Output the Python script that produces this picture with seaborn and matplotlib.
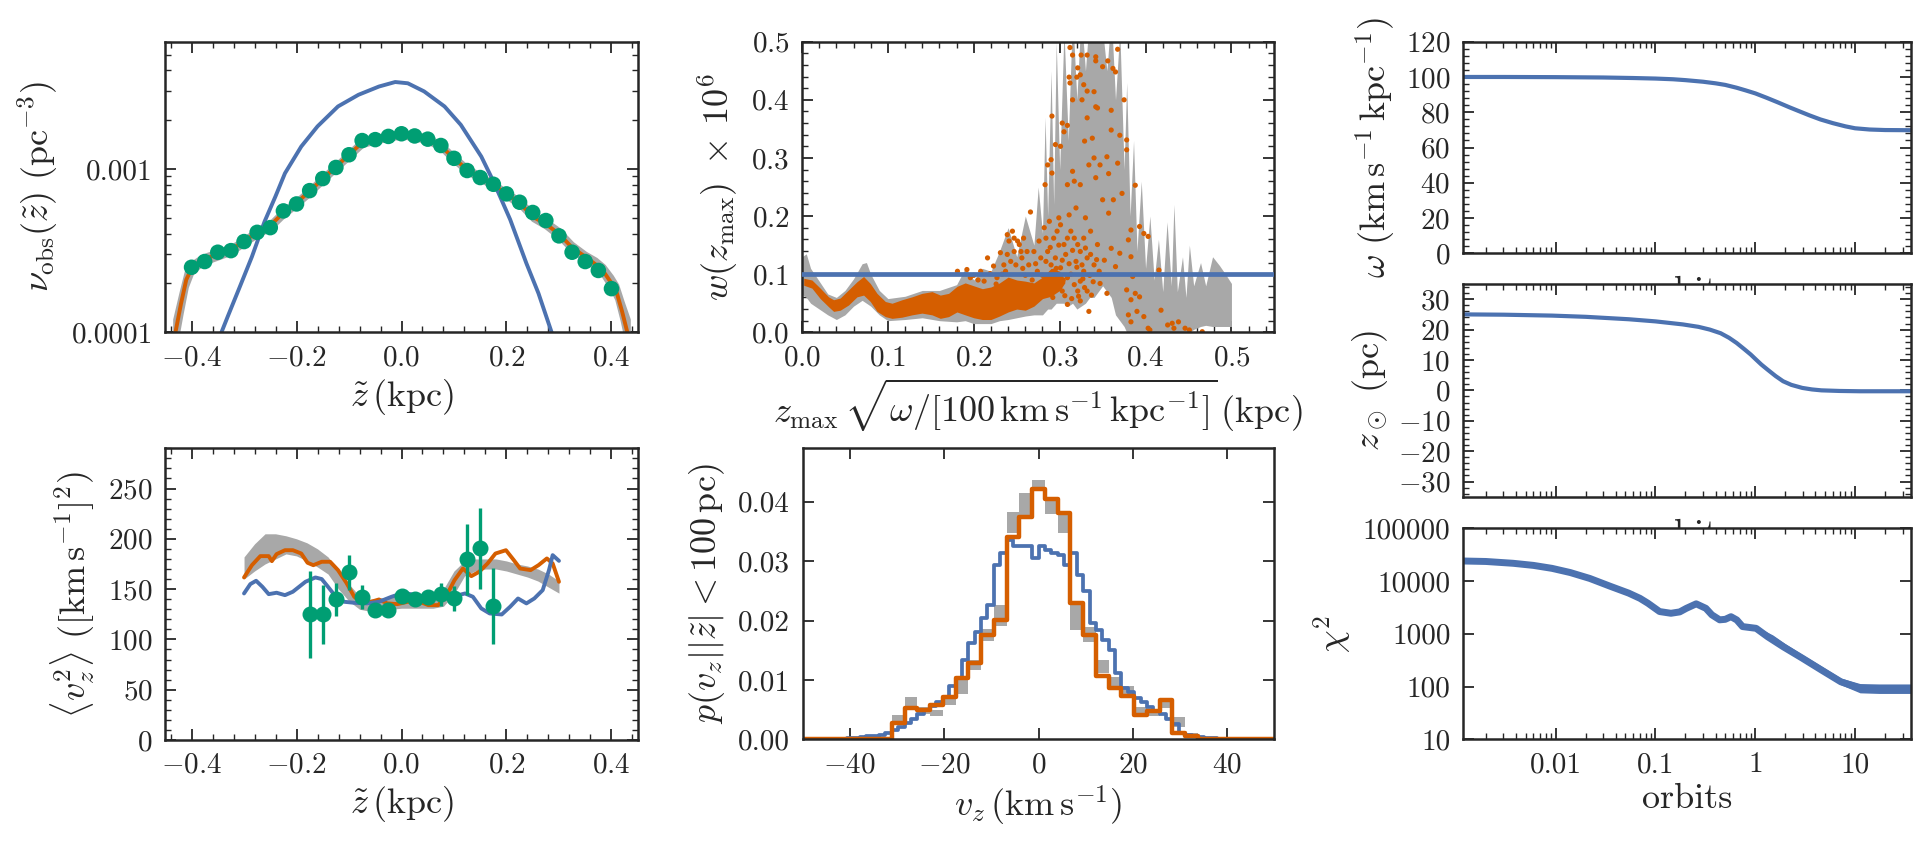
import matplotlib
matplotlib.use("Agg")
import matplotlib.pyplot as plt
import matplotlib.ticker as mticker
import numpy as np
import seaborn as sns

BLUE = "#4C72B0"
ORANGE = "#D55E00"
GREEN = "#009E73"
GREY = "#A8A8A8"

# ---------------------------------------------------------------------------
# (a) vertical number density
# ---------------------------------------------------------------------------
nu_dot_z = [-0.400, -0.375, -0.350, -0.325, -0.300, -0.275, -0.250, -0.225, -0.200, -0.175,
            -0.150, -0.125, -0.100, -0.075, -0.050, -0.025, 0.000, 0.025, 0.050, 0.075,
            0.100, 0.125, 0.150, 0.175, 0.200, 0.225, 0.250, 0.275, 0.300, 0.325,
            0.350, 0.375, 0.400]
nu_dot = [2.50e-4, 2.71e-4, 3.09e-4, 3.16e-4, 3.59e-4, 4.09e-4, 4.37e-4, 5.53e-4, 6.10e-4, 7.36e-4,
          8.72e-4, 1.02e-3, 1.22e-3, 1.49e-3, 1.51e-3, 1.58e-3, 1.64e-3, 1.59e-3, 1.52e-3, 1.39e-3,
          1.16e-3, 9.77e-4, 8.85e-4, 8.05e-4, 7.03e-4, 6.25e-4, 5.41e-4, 4.83e-4, 3.89e-4, 3.09e-4,
          2.71e-4, 2.39e-4, 1.85e-4]

nu_line_z = [-0.432, -0.42, -0.41, -0.40, -0.385, -0.37, -0.35, -0.325, -0.30, -0.275,
             -0.25, -0.225, -0.20, -0.175, -0.15, -0.125, -0.10, -0.075, -0.05, -0.025,
             0.0, 0.025, 0.05, 0.075, 0.10, 0.125, 0.15, 0.175, 0.20, 0.225,
             0.25, 0.275, 0.30, 0.325, 0.35, 0.37, 0.385, 0.40, 0.41, 0.42, 0.432]
nu_line = [0.95e-4, 1.5e-4, 2.1e-4, 2.45e-4, 2.7e-4, 2.85e-4, 3.0e-4, 3.2e-4, 3.6e-4, 4.1e-4,
           4.5e-4, 5.4e-4, 6.2e-4, 7.3e-4, 8.7e-4, 1.03e-3, 1.22e-3, 1.45e-3, 1.52e-3, 1.58e-3,
           1.63e-3, 1.59e-3, 1.52e-3, 1.38e-3, 1.16e-3, 9.9e-4, 8.9e-4, 8.0e-4, 7.0e-4, 6.2e-4,
           5.1e-4, 4.6e-4, 4.0e-4, 3.3e-4, 2.9e-4, 2.6e-4, 2.35e-4, 2.0e-4, 1.75e-4, 1.35e-4, 0.95e-4]
nu_band_lo = [0.8e-4, 1.3e-4, 1.9e-4, 2.3e-4, 2.55e-4, 2.7e-4, 2.85e-4, 3.05e-4, 3.45e-4, 3.9e-4,
              4.3e-4, 5.15e-4, 5.95e-4, 7.0e-4, 8.35e-4, 9.9e-4, 1.17e-3, 1.39e-3, 1.46e-3, 1.52e-3,
              1.57e-3, 1.53e-3, 1.46e-3, 1.33e-3, 1.11e-3, 9.5e-4, 8.55e-4, 7.7e-4, 6.7e-4, 5.95e-4,
              4.9e-4, 4.4e-4, 3.8e-4, 3.15e-4, 2.75e-4, 2.45e-4, 2.2e-4, 1.85e-4, 1.6e-4, 1.2e-4, 0.8e-4]
nu_band_hi = [1.2e-4, 1.75e-4, 2.35e-4, 2.65e-4, 2.85e-4, 3.0e-4, 3.15e-4, 3.35e-4, 3.75e-4, 4.3e-4,
              4.7e-4, 5.65e-4, 6.45e-4, 7.6e-4, 9.05e-4, 1.07e-3, 1.27e-3, 1.51e-3, 1.58e-3, 1.64e-3,
              1.69e-3, 1.65e-3, 1.58e-3, 1.43e-3, 1.21e-3, 1.03e-3, 9.25e-4, 8.3e-4, 7.3e-4, 6.5e-4,
              5.4e-4, 4.85e-4, 4.25e-4, 3.5e-4, 3.05e-4, 2.8e-4, 2.55e-4, 2.2e-4, 1.95e-4, 1.55e-4, 1.2e-4]

nu_model_z = [-0.343, -0.331, -0.308, -0.285, -0.261, -0.240, -0.222, -0.191, -0.160, -0.121,
              -0.082, -0.043, -0.012, 0.012, 0.043, 0.082, 0.113, 0.152, 0.175, 0.207,
              0.238, 0.261, 0.286]
nu_model = [1.0e-4, 1.25e-4, 1.9e-4, 2.9e-4, 4.75e-4, 6.8e-4, 9.4e-4, 1.37e-3, 1.82e-3, 2.41e-3,
            2.84e-3, 3.19e-3, 3.40e-3, 3.34e-3, 2.98e-3, 2.41e-3, 1.86e-3, 1.19e-3, 8.4e-4, 4.9e-4,
            2.64e-4, 1.73e-4, 1.0e-4]

# ---------------------------------------------------------------------------
# (b) velocity dispersion
# ---------------------------------------------------------------------------
v2_dot_z = [-0.175, -0.15, -0.125, -0.1, -0.075, -0.05, -0.025, 0.0, 0.025, 0.05,
            0.075, 0.1, 0.125, 0.15, 0.175]
v2_dot = [124.8, 124.8, 139.7, 166.9, 142.4, 129.1, 129.1, 143.4, 139.7, 142.4,
          144.7, 140.7, 179.5, 190.4, 133.1]
v2_err = [43.5, 29.0, 16.5, 17.5, 12.0, 5.0, 4.0, 4.0, 4.0, 5.0,
          11.0, 12.0, 35.0, 40.0, 38.0]

v2_fit_z = [-0.300, -0.285, -0.269, -0.253, -0.247, -0.238, -0.222, -0.207, -0.191, -0.179,
            -0.168, -0.152, -0.136, -0.121, -0.105, -0.090, -0.074, -0.058, -0.043, -0.027,
            -0.008, 0.012, 0.035, 0.051, 0.070, 0.086, 0.101, 0.117, 0.133, 0.148,
            0.164, 0.179, 0.199, 0.214, 0.226, 0.246, 0.261, 0.277, 0.288, 0.300]
v2_fit = [161.6, 173.8, 182.8, 182.8, 177.8, 184.8, 188.7, 188.7, 185.4, 176.2,
          173.8, 177.2, 177.2, 168.9, 156.3, 142.4, 135.8, 137.4, 139.7, 135.8,
          135.1, 137.4, 137.4, 134.1, 134.1, 144.0, 158.9, 170.5, 162.9, 167.2,
          175.5, 185.4, 188.7, 178.8, 170.5, 168.9, 173.8, 180.5, 175.5, 157.3]

v2_model_z = [-0.300, -0.288, -0.277, -0.265, -0.253, -0.238, -0.222, -0.207, -0.183, -0.164,
              -0.152, -0.140, -0.125, -0.109, -0.090, -0.066, -0.043, -0.019, 0.004, 0.027,
              0.051, 0.074, 0.097, 0.121, 0.136, 0.152, 0.168, 0.191, 0.207, 0.222,
              0.238, 0.253, 0.269, 0.281, 0.288, 0.300]
v2_model = [145.7, 155.0, 158.3, 152.3, 145.0, 146.4, 144.0, 147.4, 157.3, 161.6,
            160.0, 152.3, 142.4, 137.4, 136.4, 135.8, 137.4, 142.4, 146.4, 144.0,
            142.4, 140.7, 142.4, 145.7, 142.4, 130.8, 125.8, 124.8, 132.5, 140.7,
            135.8, 140.7, 149.0, 168.9, 183.8, 178.1]

v2_band_z = [-0.30, -0.28, -0.26, -0.24, -0.22, -0.20, -0.18, -0.16, -0.14, -0.12,
             -0.10, -0.08, -0.06, -0.04, -0.02, 0.0, 0.02, 0.04, 0.06, 0.08,
             0.10, 0.12, 0.14, 0.16, 0.18, 0.20, 0.22, 0.24, 0.26, 0.28, 0.30]
v2_band_lo = [160, 168, 175, 180, 185, 183, 178, 172, 165, 150,
              138, 130, 128, 129, 130, 131, 131, 131, 131, 133,
              145, 163, 168, 170, 170, 168, 165, 162, 158, 152, 146]
v2_band_hi = [182, 195, 205, 205, 203, 200, 196, 190, 182, 168,
              155, 143, 140, 141, 143, 144, 144, 144, 144, 150,
              168, 178, 180, 180, 180, 178, 175, 173, 170, 165, 158]

# ---------------------------------------------------------------------------
# (c) weights w(z_max)
# ---------------------------------------------------------------------------
w_true = 0.1

w_dense_x = [0.002, 0.0115, 0.0212, 0.0309, 0.0368, 0.0445, 0.0542, 0.064, 0.0717, 0.0795,
             0.0873, 0.097, 0.1048, 0.1164, 0.128, 0.1397, 0.1514, 0.161, 0.1707, 0.1804,
             0.19, 0.20, 0.21, 0.22, 0.23, 0.24, 0.25, 0.26, 0.27, 0.28,
             0.29, 0.30, 0.306]
w_dense_lo = [0.081, 0.076, 0.058, 0.044, 0.036, 0.038, 0.047, 0.061, 0.064, 0.053,
              0.036, 0.027, 0.024, 0.026, 0.030, 0.033, 0.030, 0.024, 0.027, 0.035,
              0.030, 0.025, 0.022, 0.022, 0.028, 0.035, 0.040, 0.038, 0.045, 0.058,
              0.062, 0.072, 0.085]
w_dense_hi = [0.093, 0.090, 0.076, 0.061, 0.056, 0.059, 0.073, 0.087, 0.096, 0.084,
              0.067, 0.053, 0.050, 0.056, 0.061, 0.067, 0.070, 0.064, 0.067, 0.079,
              0.085, 0.080, 0.075, 0.078, 0.085, 0.095, 0.090, 0.088, 0.085, 0.095,
              0.110, 0.105, 0.090]

w_err_x = [0.0, 0.005, 0.01, 0.02, 0.03, 0.04, 0.05, 0.06, 0.07, 0.075,
           0.08, 0.09, 0.10, 0.12, 0.14, 0.16, 0.18, 0.19, 0.20, 0.21,
           0.22, 0.23, 0.24, 0.25, 0.26, 0.27, 0.275, 0.28, 0.283, 0.286,
           0.29, 0.293, 0.296, 0.30, 0.305, 0.31, 0.315, 0.32, 0.325, 0.33,
           0.335, 0.34, 0.345, 0.35, 0.355, 0.36, 0.365, 0.37, 0.375, 0.378,
           0.382, 0.386, 0.39, 0.395, 0.40, 0.405, 0.41, 0.415, 0.42, 0.425,
           0.43, 0.433, 0.437, 0.443, 0.447, 0.451, 0.456, 0.464, 0.47, 0.478,
           0.486, 0.493, 0.50]
w_err_hi = [0.13, 0.135, 0.11, 0.088, 0.066, 0.06, 0.072, 0.092, 0.118, 0.12,
            0.10, 0.072, 0.058, 0.062, 0.072, 0.072, 0.082, 0.11, 0.09, 0.11,
            0.105, 0.14, 0.18, 0.13, 0.20, 0.15, 0.25, 0.17, 0.37, 0.20,
            0.45, 0.22, 0.50, 0.28, 0.52, 0.33, 0.55, 0.40, 0.55, 0.45,
            0.55, 0.50, 0.55, 0.52, 0.45, 0.55, 0.40, 0.52, 0.28, 0.43,
            0.20, 0.33, 0.14, 0.26, 0.11, 0.20, 0.09, 0.16, 0.07, 0.19,
            0.08, 0.22, 0.07, 0.13, 0.06, 0.15, 0.08, 0.12, 0.08, 0.13,
            0.115, 0.10, 0.084]
w_err_lo = [0.065, 0.06, 0.05, 0.04, 0.03, 0.022, 0.03, 0.045, 0.055, 0.05,
            0.045, 0.03, 0.02, 0.022, 0.025, 0.02, 0.018, 0.02, 0.015, 0.015,
            0.015, 0.02, 0.022, 0.025, 0.028, 0.03, 0.03, 0.03, 0.035, 0.04,
            0.04, 0.045, 0.05, 0.05, 0.05, 0.045, 0.05, 0.04, 0.045, 0.05,
            0.06, 0.06, 0.07, 0.08, 0.07, 0.06, 0.03, 0.02, 0.01, 0.0,
            0.0, 0.0, 0.0, 0.0, 0.0, 0.0, 0.0, 0.0, 0.0, 0.0,
            0.0, 0.0, 0.0, 0.0, 0.0, 0.0, 0.005, 0.01, 0.012, 0.01,
            0.01, 0.01, 0.01]

w_pt_x = [0.312, 0.315, 0.325, 0.332, 0.342, 0.321, 0.324, 0.320, 0.311, 0.328,
          0.332, 0.326, 0.315, 0.312, 0.291, 0.303, 0.309, 0.305, 0.295, 0.301,
          0.290, 0.286, 0.291, 0.283, 0.309, 0.315, 0.317, 0.324, 0.334, 0.340,
          0.329, 0.332, 0.338, 0.342, 0.344, 0.266, 0.239, 0.241, 0.247, 0.251,
          0.255, 0.256, 0.192, 0.223, 0.231, 0.282, 0.288, 0.293, 0.297, 0.301,
          0.305, 0.309, 0.313, 0.317, 0.321, 0.324, 0.328, 0.332, 0.336, 0.340,
          0.286, 0.290, 0.293, 0.301, 0.309, 0.317, 0.321, 0.324, 0.328, 0.332,
          0.307, 0.303, 0.297, 0.293, 0.286, 0.278, 0.274, 0.270, 0.276, 0.284,
          0.299, 0.311, 0.319, 0.330, 0.336, 0.344, 0.346, 0.324, 0.309, 0.334,
          0.227, 0.208, 0.216, 0.245, 0.247, 0.253, 0.258, 0.262, 0.264, 0.249,
          0.239, 0.235, 0.181, 0.196, 0.3675, 0.342, 0.356, 0.350, 0.362, 0.365,
          0.340, 0.342, 0.360, 0.375, 0.360, 0.370, 0.378, 0.355, 0.3675, 0.378,
          0.347, 0.357, 0.388, 0.3726, 0.3625, 0.350, 0.357, 0.383, 0.393, 0.380,
          0.398, 0.403, 0.360, 0.370, 0.365, 0.383, 0.385, 0.378, 0.388, 0.383,
          0.393, 0.380, 0.383, 0.390, 0.398, 0.403, 0.4156, 0.418, 0.4257, 0.431,
          0.433, 0.4383, 0.446, 0.451, 0.466, 0.405, 0.352, 0.347, 0.355,
          0.284, 0.289, 0.295, 0.299, 0.303, 0.311, 0.315, 0.319, 0.326, 0.330,
          0.280, 0.288, 0.296, 0.304, 0.313, 0.320, 0.327, 0.335, 0.339, 0.343,
          0.282, 0.292, 0.300, 0.306, 0.314, 0.322, 0.329, 0.337, 0.200, 0.212,
          0.219, 0.233, 0.243, 0.257, 0.268, 0.272, 0.205, 0.226, 0.237, 0.260]
w_pt_y = [0.490, 0.477, 0.477, 0.477, 0.467, 0.455, 0.443, 0.439, 0.439, 0.426,
          0.415, 0.400, 0.400, 0.429, 0.372, 0.360, 0.356, 0.345, 0.323, 0.320,
          0.297, 0.288, 0.274, 0.254, 0.254, 0.277, 0.260, 0.254, 0.288, 0.300,
          0.329, 0.369, 0.334, 0.266, 0.386, 0.207, 0.168, 0.157, 0.139, 0.157,
          0.139, 0.128, 0.108, 0.114, 0.137, 0.180, 0.191, 0.162, 0.174, 0.185,
          0.151, 0.162, 0.174, 0.162, 0.151, 0.139, 0.162, 0.128, 0.134, 0.116,
          0.139, 0.116, 0.105, 0.111, 0.094, 0.082, 0.071, 0.088, 0.105, 0.071,
          0.134, 0.071, 0.094, 0.071, 0.094, 0.128, 0.105, 0.139, 0.157, 0.162,
          0.197, 0.202, 0.214, 0.197, 0.174, 0.151, 0.105, 0.054, 0.048, 0.036,
          0.094, 0.105, 0.128, 0.174, 0.162, 0.151, 0.162, 0.139, 0.116, 0.116,
          0.134, 0.116, 0.105, 0.094, 0.487, 0.474, 0.467, 0.457, 0.454, 0.448,
          0.414, 0.388, 0.382, 0.400, 0.348, 0.339, 0.331, 0.302, 0.291, 0.314,
          0.288, 0.273, 0.253, 0.239, 0.228, 0.228, 0.205, 0.176, 0.182, 0.159,
          0.170, 0.165, 0.1445, 0.136, 0.113, 0.130, 0.096, 0.073, 0.067, 0.056,
          0.061, 0.030, 0.018, 0.036, 0.027, 0.007, 0.107, 0.038, 0.0126, 0.0155,
          0.007, 0.018, 0.007, 0.004, 0.001, 0.004, 0.124, 0.084, 0.067,
          0.122, 0.146, 0.128, 0.150, 0.124, 0.118, 0.141, 0.122, 0.116, 0.145,
          0.098, 0.083, 0.110, 0.090, 0.100, 0.112, 0.092, 0.098, 0.087, 0.125,
          0.065, 0.060, 0.078, 0.063, 0.058, 0.062, 0.077, 0.064, 0.098, 0.088,
          0.101, 0.100, 0.122, 0.110, 0.090, 0.118, 0.090, 0.083, 0.105, 0.098]

# ---------------------------------------------------------------------------
# (d) v_z distribution near the plane
# ---------------------------------------------------------------------------
vz_hist_data = [0, 0, 0, 0, 0, 0, 0, 0.0028, 0.0053, 0.0050,
                0.0058, 0.0072, 0.0103, 0.0128, 0.0176, 0.0201, 0.0340, 0.0374, 0.0422, 0.0404,
                0.0381, 0.0230, 0.0176, 0.0107, 0.0087, 0.0073, 0.0041, 0.0048, 0.0066, 0.0010,
                0.0006, 0, 0, 0, 0, 0, 0]
vz_band_lo = [0, 0, 0, 0, 0, 0, 0, 0.0027, 0.0055, 0.0043,
              0.0040, 0.0058, 0.0077, 0.0117, 0.0165, 0.0190, 0.0347, 0.0375, 0.0418, 0.0380,
              0.0347, 0.0184, 0.0164, 0.0111, 0.0088, 0.0072, 0.0042, 0.0040, 0.0052, 0.0020,
              0.0004, 0, 0, 0, 0, 0, 0]
vz_band_hi = [0, 0, 0, 0, 0, 0, 0, 0.0041, 0.0072, 0.0055,
              0.0050, 0.0072, 0.0100, 0.0134, 0.0185, 0.0226, 0.0383, 0.0414, 0.0436, 0.0405,
              0.0378, 0.0226, 0.0189, 0.0133, 0.0105, 0.0089, 0.0055, 0.0050, 0.0070, 0.0037,
              0.0010, 0, 0, 0, 0, 0, 0]
vz_hist_model = [0, 0, 0, 0, 0, 0, 0, 0.0002, 0.0003, 0.0004,
                 0.0005, 0.0006, 0.0008, 0.0010, 0.0015, 0.0021, 0.0028, 0.0035, 0.0043, 0.0049,
                 0.0056, 0.0062, 0.0072, 0.0090, 0.0104, 0.0134, 0.0162, 0.0180, 0.0204, 0.0226,
                 0.0293, 0.0313, 0.0336, 0.0326, 0.0326, 0.0326, 0.0305, 0.0326, 0.0319, 0.0314,
                 0.0310, 0.0293, 0.0313, 0.0277, 0.0249, 0.0195, 0.0184, 0.0167, 0.0150, 0.0111,
                 0.0086, 0.0080, 0.0070, 0.0062, 0.0055, 0.0048, 0.0042, 0.0035, 0.0026, 0.0010,
                 0.0008, 0.0006, 0.0004, 0.0003, 0.0002, 0.0001, 0, 0, 0, 0,
                 0, 0, 0, 0]

# ---------------------------------------------------------------------------
# (e-g) convergence vs. orbits
# ---------------------------------------------------------------------------
omega_t = [0.00118, 0.003, 0.01, 0.03, 0.06, 0.1, 0.15, 0.2, 0.3, 0.4,
           0.5, 0.65, 0.8, 1.0, 1.3, 1.7, 2.2, 2.8, 3.5, 4.5,
           6.0, 8.0, 10.0, 14.0, 20.0, 36.0]
omega = [100.0, 100.0, 99.9, 99.7, 99.4, 99.1, 98.7, 98.2, 97.3, 96.4,
         95.5, 93.9, 92.4, 90.7, 88.2, 85.5, 82.8, 80.4, 78.2, 75.9,
         73.8, 72.0, 70.9, 70.2, 69.9, 69.8]

zsun_t = [0.00118, 0.003, 0.0092, 0.02, 0.054, 0.1, 0.188, 0.27, 0.35, 0.45,
          0.546, 0.65, 0.78, 0.9, 1.02, 1.15, 1.33, 1.6, 1.9, 2.3,
          2.96, 3.7, 4.6, 7.0, 11.2, 36.0]
zsun = [25.0, 24.9, 24.6, 24.2, 23.4, 22.7, 21.7, 20.9, 20.0, 18.8,
        17.3, 15.6, 13.5, 11.8, 10.1, 8.5, 6.8, 4.7, 3.0, 1.8,
        0.8, 0.3, 0.0, -0.2, -0.3, -0.3]

chi2_t = [0.00118, 0.002, 0.00376, 0.006, 0.0092, 0.014, 0.022, 0.035, 0.054, 0.07,
          0.084, 0.11, 0.143, 0.175, 0.204, 0.256, 0.32, 0.367, 0.44, 0.5,
          0.571, 0.653, 0.746, 1.02, 1.33, 1.9, 2.96, 4.6, 7.2, 11.2,
          17.4, 36.0]
chi2 = [24000, 23500, 21700, 19800, 17400, 14500, 11200, 8000, 5900, 4700,
        3800, 2640, 2450, 2600, 3040, 3700, 3040, 2290, 1840, 1880,
        2110, 1830, 1370, 1270, 880, 570, 345, 206, 123, 93,
        90, 90]
chi2_band_t = [1.0, 1.5, 2.0, 3.0, 4.6, 7.2, 11.2, 17.4, 36.0]
chi2_band_lo = [1150, 760, 520, 330, 195, 108, 76, 74, 74]
chi2_band_hi = [1400, 950, 650, 400, 245, 145, 114, 112, 112]

# ---------------------------------------------------------------------------
# figure
# ---------------------------------------------------------------------------
sns.set_style("ticks")
plt.rcParams.update({
    "font.family": "serif",
    "font.serif": ["cmr10"],
    "mathtext.fontset": "cm",
    "axes.formatter.use_mathtext": True,
    "axes.unicode_minus": True,
})

FIG_W, FIG_H = 1926, 852
fig = plt.figure(figsize=(FIG_W / 100, FIG_H / 100), dpi=100)

TICK_FS = 21
LABEL_FS = 26
LW = 2.8


def add_axes(left, top, right, bottom):
    return fig.add_axes([left / FIG_W, 1 - bottom / FIG_H,
                         (right - left) / FIG_W, (bottom - top) / FIG_H])


def style(ax, minor_x=5, minor_y=5):
    if minor_x:
        ax.xaxis.set_minor_locator(mticker.AutoMinorLocator(minor_x))
    if minor_y:
        ax.yaxis.set_minor_locator(mticker.AutoMinorLocator(minor_y))
    ax.tick_params(which="both", direction="in", top=True, right=True, colors=".15")
    ax.tick_params(which="major", length=8, width=1.3, pad=9, labelsize=TICK_FS)
    ax.tick_params(which="minor", length=4, width=1.0)
    for sp in ax.spines.values():
        sp.set_linewidth(1.8)
        sp.set_color(".15")


# (a)
ax1 = add_axes(165.3, 41.7, 637.7, 332.3)
ax1.set_yscale("log")
ax1.fill_between(nu_line_z, nu_band_lo, nu_band_hi, color=GREY, lw=3)
sns.lineplot(x=nu_line_z, y=nu_line, color=ORANGE, linewidth=LW, sort=False,
             estimator=None, ax=ax1)
sns.lineplot(x=nu_model_z, y=nu_model, color=BLUE, linewidth=LW, sort=False,
             estimator=None, ax=ax1)
sns.scatterplot(x=nu_dot_z, y=nu_dot, color=GREEN, s=125, edgecolor="none", ax=ax1,
                zorder=4)
ax1.set_xlim(-0.45, 0.45)
ax1.set_ylim(1e-4, 6e-3)
style(ax1, minor_y=0)
ax1.xaxis.set_major_locator(mticker.MultipleLocator(0.2))
ax1.set_yticks([1e-4, 1e-3], ["0.0001", "0.001"])
ax1.yaxis.set_minor_formatter(mticker.NullFormatter())
ax1.set_xlabel(r"$\tilde{z}\,(\mathrm{kpc})$", fontsize=LABEL_FS)
ax1.set_ylabel(r"$\nu_{\mathrm{obs}}(\tilde{z})\ (\mathrm{pc}^{-3})$", fontsize=LABEL_FS,
               labelpad=8)

# (b)
ax2 = add_axes(165.3, 448.3, 637.7, 740.0)
ax2.fill_between(v2_band_z, v2_band_lo, v2_band_hi, color=GREY, lw=0)
sns.lineplot(x=v2_fit_z, y=v2_fit, color=ORANGE, linewidth=LW, sort=False,
             estimator=None, ax=ax2)
sns.lineplot(x=v2_model_z, y=v2_model, color=BLUE, linewidth=LW, sort=False,
             estimator=None, ax=ax2)
ax2.errorbar(v2_dot_z, v2_dot, yerr=v2_err, fmt="o", color=GREEN, ms=10.5, elinewidth=2.4,
             capsize=0, zorder=4)
ax2.set_xlim(-0.45, 0.45)
ax2.set_ylim(0, 290)
style(ax2)
ax2.xaxis.set_major_locator(mticker.MultipleLocator(0.2))
ax2.yaxis.set_major_locator(mticker.MultipleLocator(50))
ax2.set_xlabel(r"$\tilde{z}\,(\mathrm{kpc})$", fontsize=LABEL_FS)
ax2.set_ylabel(r"$\langle v_z^2\rangle\ ([\mathrm{km\,s}^{-1}]^2)$", fontsize=LABEL_FS,
               labelpad=8)

# (c)
ax3 = add_axes(802.0, 41.7, 1274.4, 332.3)
ax3.fill_between(w_err_x, w_err_lo, w_err_hi, color=GREY, lw=0)
ax3.fill_between(w_dense_x, w_dense_lo, w_dense_hi, color=ORANGE, lw=0)
sns.scatterplot(x=w_pt_x, y=w_pt_y, color=ORANGE, s=14, edgecolor="none", ax=ax3)
ax3.axhline(w_true, color=BLUE, lw=3.4, zorder=5)
ax3.set_xlim(0, 0.55)
ax3.set_ylim(0, 0.5)
style(ax3)
ax3.xaxis.set_major_locator(mticker.MultipleLocator(0.1))
ax3.yaxis.set_major_locator(mticker.MultipleLocator(0.1))
ax3.set_xlabel(r"$z_{\mathrm{max}}\,\sqrt{\omega/[100\,\mathrm{km\,s}^{-1}\,"
               r"\mathrm{kpc}^{-1}]}\,(\mathrm{kpc})$", fontsize=LABEL_FS)
ax3.set_ylabel(r"$w(z_{\mathrm{max}})\ \times\,10^6$", fontsize=LABEL_FS, labelpad=8)

# (d)
ax4 = add_axes(802.6, 448.3, 1274.4, 739.3)
edges_wide = np.linspace(-50, 50, len(vz_hist_data) + 1)
edges_fine = np.linspace(-50, 50, len(vz_hist_model) + 1)
centers_wide = 0.5 * (edges_wide[1:] + edges_wide[:-1])
centers_fine = 0.5 * (edges_fine[1:] + edges_fine[:-1])
ax4.fill_between(edges_wide, vz_band_lo + vz_band_lo[-1:], vz_band_hi + vz_band_hi[-1:],
                 step="post", color=GREY, lw=0)
sns.histplot(x=centers_fine, weights=vz_hist_model, bins=len(vz_hist_model),
             binrange=(-50, 50), element="step", fill=False, color=BLUE, linewidth=2.7,
             ax=ax4)
sns.histplot(x=centers_wide, weights=vz_hist_data, bins=len(vz_hist_data),
             binrange=(-50, 50), element="step", fill=False, color=ORANGE, linewidth=3.2,
             ax=ax4)
ax4.set_xlim(-50, 50)
ax4.set_ylim(0, 0.049)
style(ax4, minor_x=0, minor_y=0)
ax4.xaxis.set_major_locator(mticker.MultipleLocator(20))
ax4.yaxis.set_major_locator(mticker.MultipleLocator(0.01))
ax4.yaxis.set_major_formatter(mticker.FormatStrFormatter("%.2f"))
ax4.set_xlabel(r"$v_z\,(\mathrm{km\,s}^{-1})$", fontsize=LABEL_FS)
ax4.set_ylabel(r"$p(v_z||\tilde{z}|<100\,\mathrm{pc})$", fontsize=LABEL_FS, labelpad=8)

# (e)-(g)
orbit_ticks = [0.01, 0.1, 1, 10]
orbit_labels = ["0.01", "0.1", "1", "10"]

ax5 = add_axes(1463.0, 41.7, 1910.6, 253.3)
ax5.set_xscale("log")
sns.lineplot(x=omega_t, y=omega, color=BLUE, linewidth=3.0, sort=False, estimator=None,
             ax=ax5)
ax5.set_xlim(0.00118, 36)
ax5.set_ylim(0, 120)
style(ax5, minor_x=0)
ax5.yaxis.set_major_locator(mticker.MultipleLocator(20))
ax5.set_xticks(orbit_ticks, orbit_labels)
ax5.tick_params(axis="x", labelbottom=False)
ax5.set_xlabel("orbits", fontsize=LABEL_FS, labelpad=13)
ax5.set_ylabel(r"$\omega\ (\mathrm{km\,s}^{-1}\,\mathrm{kpc}^{-1})$", fontsize=LABEL_FS,
               labelpad=6)

ax6 = add_axes(1463.0, 284.0, 1910.6, 496.7)
ax6.set_xscale("log")
sns.lineplot(x=zsun_t, y=zsun, color=BLUE, linewidth=3.0, sort=False, estimator=None,
             ax=ax6)
ax6.set_xlim(0.00118, 36)
ax6.set_ylim(-35, 35)
style(ax6, minor_x=0)
ax6.yaxis.set_major_locator(mticker.MultipleLocator(10))
ax6.set_xticks(orbit_ticks, orbit_labels)
ax6.tick_params(axis="x", labelbottom=False)
ax6.set_xlabel("orbits", fontsize=LABEL_FS, labelpad=13)
ax6.set_ylabel(r"$z_\odot\ (\mathrm{pc})$", fontsize=LABEL_FS, labelpad=6)

ax7 = add_axes(1463.0, 528.3, 1910.6, 739.3)
ax7.set_xscale("log")
ax7.set_yscale("log")
ax7.fill_between(chi2_band_t, chi2_band_lo, chi2_band_hi, color=BLUE, lw=0)
sns.lineplot(x=chi2_t, y=chi2, color=BLUE, linewidth=5.0, sort=False, estimator=None,
             ax=ax7)
ax7.set_xlim(0.00118, 36)
ax7.set_ylim(10, 1e5)
style(ax7, minor_x=0, minor_y=0)
ax7.set_xticks(orbit_ticks, orbit_labels)
ax7.set_yticks([10, 100, 1000, 10000, 100000], ["10", "100", "1000", "10000", "100000"])
ax7.xaxis.set_minor_formatter(mticker.NullFormatter())
ax7.yaxis.set_minor_formatter(mticker.NullFormatter())
ax7.set_xlabel("orbits", fontsize=LABEL_FS)
ax7.set_ylabel(r"$\chi^2$", fontsize=LABEL_FS, labelpad=6)

for ax in (ax5, ax6):
    ax.xaxis.set_minor_formatter(mticker.NullFormatter())

fig.savefig("out.png", dpi=100)
